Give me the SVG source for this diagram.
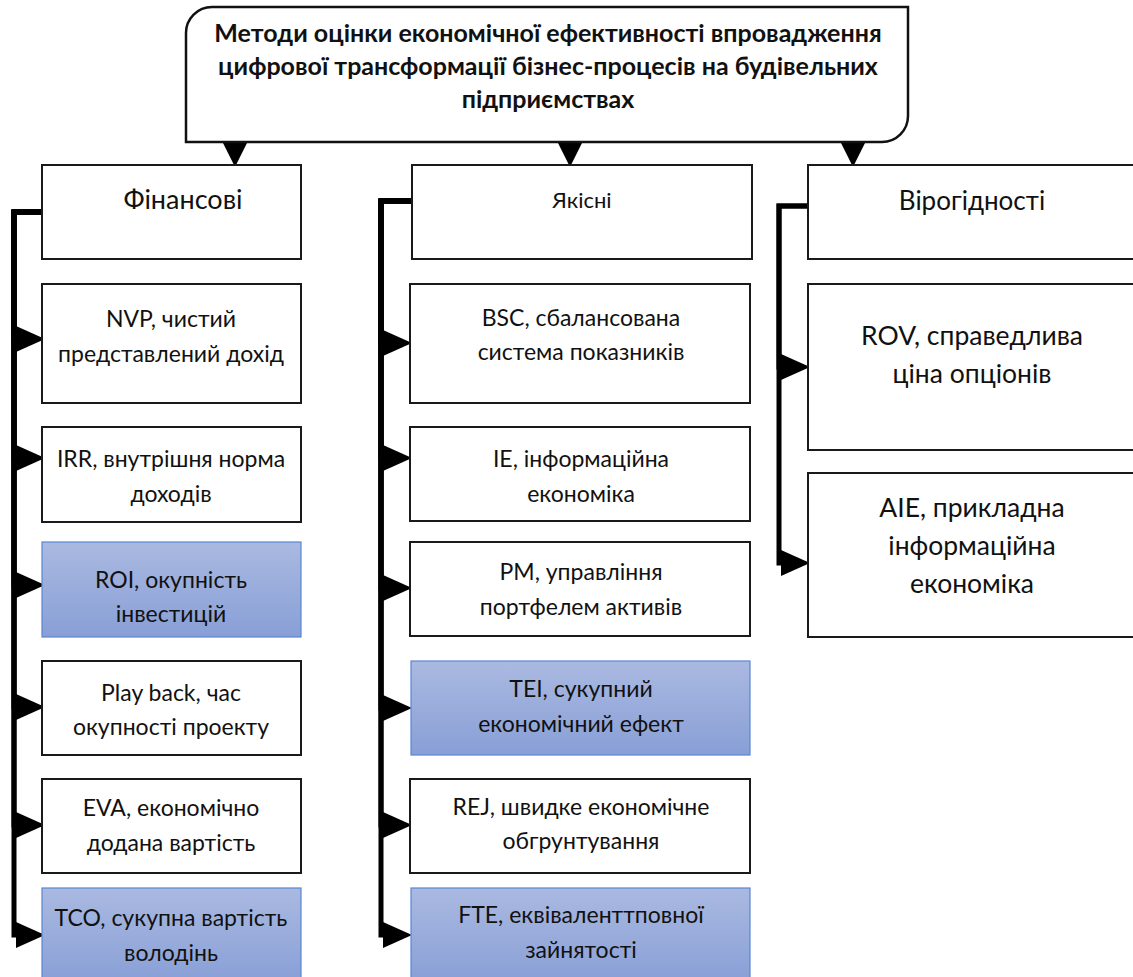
<svg xmlns="http://www.w3.org/2000/svg" xmlns:xlink="http://www.w3.org/1999/xlink" width="1133" height="977" viewBox="0 0 1133 977">
  <style>
    .box { fill: #ffffff; stroke: #1a1a1a; stroke-width: 2; }
    .hl { fill: url(#blueGrad); stroke: #5a86d2; stroke-width: 1.2; }
    .t { font-family: Lato, "Noto Sans", "Liberation Sans", sans-serif; font-size: 23px; fill: #111; text-anchor: middle; }
    .hdr { font-size: 26px; }
    .big { font-size: 26.5px; }
    .small { font-size: 22px; }
    .title { font-family: Lato, "Noto Sans", "Liberation Sans", sans-serif; font-size: 25px; font-weight: bold; fill: #111; text-anchor: middle; }
    .bus { fill: none; stroke: #000; stroke-width: 5; stroke-linejoin: miter; marker-end: url(#sideArrow); }
    .drop { fill: none; stroke: #000; stroke-width: 1.5; marker-end: url(#downArrow); }
  </style>
  <defs>
    <linearGradient id="blueGrad" x1="0" y1="0" x2="0" y2="1">
      <stop offset="0" stop-color="#aab9e1"/>
      <stop offset="1" stop-color="#889fd6"/>
    </linearGradient>
    <marker id="sideArrow" markerUnits="userSpaceOnUse" markerWidth="30" markerHeight="26" refX="0" refY="13" orient="auto" overflow="visible">
      <path d="M0,0 L29,13 L0,26 Z" fill="#000"/>
    </marker>
    <marker id="downArrow" markerUnits="userSpaceOnUse" markerWidth="26" markerHeight="26" refX="0" refY="12" orient="auto" overflow="visible">
      <path d="M0,0 L24,12 L0,24 Z" fill="#000"/>
    </marker>
  </defs>

  <rect width="1133" height="977" fill="#ffffff"/>

  <!-- connectors: title drops and the three elbow buses -->
  <g id="connectors">
    <path class="drop" d="M235,142 V143"/>
    <path class="drop" d="M570,142 V143"/>
    <path class="drop" d="M853,142 V143"/>

    <path class="bus" d="M42,212 H14 V339 H16"/>
    <path class="bus" d="M42,212 H14 V458 H16"/>
    <path class="bus" d="M42,212 H14 V585 H16"/>
    <path class="bus" d="M42,212 H14 V707 H16"/>
    <path class="bus" d="M42,212 H14 V825 H16"/>
    <path class="bus" d="M42,212 H14 V935 H16"/>

    <path class="bus" d="M412,201 H381 V343 H383"/>
    <path class="bus" d="M412,201 H381 V458 H383"/>
    <path class="bus" d="M412,201 H381 V588 H383"/>
    <path class="bus" d="M412,201 H381 V708 H383"/>
    <path class="bus" d="M412,201 H381 V825 H383"/>
    <path class="bus" d="M412,201 H381 V935 H383"/>

    <path class="bus" d="M808,206 H779 V367 H781"/>
    <path class="bus" d="M808,206 H779 V563 H781"/>
  </g>

  <g id="title">
    <path d="M212,7 H908 V116 A26,26 0 0 1 882,142 H186 V33 A26,26 0 0 1 212,7 Z" fill="#fff" stroke="#111" stroke-width="2.5"/>
    <text class="title" x="548" y="42">Методи оцінки економічної ефективності впровадження</text>
    <text class="title" x="548" y="75">цифрової трансформації бізнес-процесів на будівельних</text>
    <text class="title" x="548" y="108">підприємствах</text>
  </g>

  <!-- column: financial -->
  <g id="fin-head">
    <rect class="box" x="42" y="165" width="259" height="94"/>
    <text class="t hdr" x="183" y="209" style="font-size:27px">Фінансові</text>
  </g>
  <g id="fin-nvp">
    <rect class="box" x="42" y="284" width="259" height="119"/>
    <text class="t" x="171" y="327">NVP, чистий</text>
    <text class="t" x="171" y="362">представлений дохід</text>
  </g>
  <g id="fin-irr">
    <rect class="box" x="42" y="427" width="259" height="95"/>
    <text class="t" x="171" y="467">IRR, внутрішня норма</text>
    <text class="t" x="171" y="502">доходів</text>
  </g>
  <g id="fin-roi">
    <rect class="hl" x="42" y="542" width="259" height="95"/>
    <text class="t" x="171" y="588">ROI, окупність</text>
    <text class="t" x="171" y="622">інвестицій</text>
  </g>
  <g id="fin-payback">
    <rect class="box" x="42" y="661" width="259" height="94"/>
    <text class="t" x="171" y="701">Play back, час</text>
    <text class="t" x="171" y="735">окупності проекту</text>
  </g>
  <g id="fin-eva">
    <rect class="box" x="42" y="779" width="259" height="94"/>
    <text class="t" x="171" y="816">EVA, економічно</text>
    <text class="t" x="171" y="851">додана вартість</text>
  </g>
  <g id="fin-tco">
    <rect class="hl" x="42" y="888" width="259" height="95"/>
    <text class="t" x="171" y="926">TCO, сукупна вартість</text>
    <text class="t" x="171" y="961">володінь</text>
  </g>

  <!-- column: qualitative -->
  <g id="qual-head">
    <rect class="box" x="412" y="165" width="340" height="94"/>
    <text class="t small" x="582" y="208">Якісні</text>
  </g>
  <g id="qual-bsc">
    <rect class="box" x="410" y="284" width="340" height="119"/>
    <text class="t" x="581" y="326">BSC, сбалансована</text>
    <text class="t" x="581" y="360">система показників</text>
  </g>
  <g id="qual-ie">
    <rect class="box" x="410" y="427" width="340" height="94"/>
    <text class="t" x="581" y="467">IE, інформаційна</text>
    <text class="t" x="581" y="502">економіка</text>
  </g>
  <g id="qual-pm">
    <rect class="box" x="410" y="542" width="340" height="94"/>
    <text class="t" x="581" y="580">PM, управління</text>
    <text class="t" x="581" y="615">портфелем активів</text>
  </g>
  <g id="qual-tei">
    <rect class="hl" x="411" y="661" width="339" height="94"/>
    <text class="t" x="581" y="697">TEI, сукупний</text>
    <text class="t" x="581" y="732">економічний ефект</text>
  </g>
  <g id="qual-rej">
    <rect class="box" x="410" y="779" width="340" height="94"/>
    <text class="t" x="581" y="815">REJ, швидке економічне</text>
    <text class="t" x="581" y="849">обгрунтування</text>
  </g>
  <g id="qual-fte">
    <rect class="hl" x="411" y="888" width="339" height="95"/>
    <text class="t" x="581" y="923">FTE, еквіваленттповної</text>
    <text class="t" x="581" y="958">зайнятості</text>
  </g>

  <!-- column: probabilistic -->
  <g id="prob-head">
    <rect class="box" x="808" y="165" width="340" height="94"/>
    <text class="t hdr" x="972" y="210">Вірогідності</text>
  </g>
  <g id="prob-rov">
    <rect class="box" x="808" y="284" width="340" height="166"/>
    <text class="t big" x="972" y="345">ROV, справедлива</text>
    <text class="t big" x="972" y="383">ціна опціонів</text>
  </g>
  <g id="prob-aie">
    <rect class="box" x="808" y="473" width="340" height="164"/>
    <text class="t big" x="972" y="517">AIE, прикладна</text>
    <text class="t big" x="972" y="555">інформаційна</text>
    <text class="t big" x="972" y="593">економіка</text>
  </g>
</svg>
